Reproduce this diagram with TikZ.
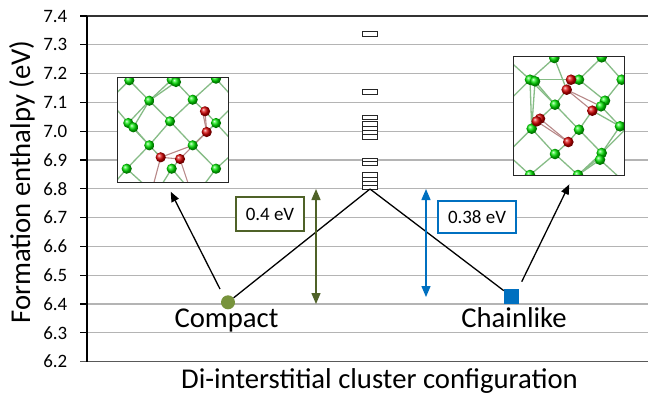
\documentclass[tikz,border=0pt]{standalone}
\usepackage{fontspec}
\setmainfont{Carlito}
\usetikzlibrary{arrows.meta}
\definecolor{olive}{HTML}{4F6228}
\definecolor{olivem}{HTML}{77933C}
\definecolor{xblue}{HTML}{0070C0}
\definecolor{gridc}{HTML}{B4B4B4}
\definecolor{bondg}{HTML}{86BC86}
\definecolor{bondr}{HTML}{B88888}
\tikzset{
  gridline/.style={gridc, line width=1.1bp},
  tick/.style={black, line width=1.1bp},
  ticklab/.style={anchor=east, inner sep=0pt, font=\fontsize{19}{20}\selectfont},
  biglab/.style={inner sep=0pt, font=\fontsize{28.8}{30}\selectfont},
  barbox/.style={draw=black!85, fill=white, line width=0.8bp, minimum width=15bp, minimum height=4.3bp, inner sep=0pt},
  valbox/.style={fill=white, line width=1.4bp, inner sep=0pt, font=\fontsize{19}{20}\selectfont},
  bond/.style={bondg, line width=1.3bp},
  rbond/.style={bondr, line width=1.1bp},
  gb/.style={ball color=green!90!black},
  rb/.style={ball color=red!85!black},
  conn/.style={black, line width=1.3bp},
  ptr/.style={black, line width=1.3bp, -{Triangle[width=8bp,length=10bp]}},
  dbl/.style={line width=1.4bp, {Triangle[width=9bp,length=11bp]}-{Triangle[width=9bp,length=11bp]}}
}
\begin{document}
\begin{tikzpicture}[x=1bp,y=-1bp]
\useasboundingbox (0,0) rectangle (648,394);
\fill[white] (0,0) rectangle (648,394);
% grid
\foreach \k in {1,...,11}{
  \draw[gridline] (87,{16+\k*28.8}) -- (648,{16+\k*28.8});
}
\draw[black!80, line width=1.2bp] (87,16) -- (648,16);
\draw[black!65, line width=1.4bp] (80,361.6) -- (648,361.6);
\foreach \k in {0,...,11}{
  \draw[tick] (80,{16+\k*28.8}) -- (87,{16+\k*28.8});
}
\draw[black, line width=1.3bp] (87,16) -- (87,361.6);
% tick labels
\foreach \k/\v in {0/7.4,1/7.3,2/7.2,3/7.1,4/7.0,5/6.9,6/6.8,7/6.7,8/6.6,9/6.5,10/6.4,11/6.3,12/6.2}{
  \node[ticklab] (t\k) at (67.5,{16+\k*28.8}) {\v};
}
% axis titles
\node[biglab, rotate=90] (ylab) at (22,182) {Formation enthalpy (eV)};
\node[biglab, anchor=base] (xlab) at (379.5,388) {Di-interstitial cluster configuration};

% left inset
\begin{scope}
\clip (117.3,77) rectangle (228.3,182);
\fill[white] (117.3,77) rectangle (228.3,182);
\coordinate (g1) at (129.3,80.3);
\coordinate (g2) at (171.7,79.7);
\coordinate (g3) at (176,82);
\coordinate (g4) at (216,78.7);
\coordinate (g5) at (149.3,100.7);
\coordinate (g6) at (192.7,99.7);
\coordinate (g7) at (128.3,123);
\coordinate (g8) at (133.3,127.3);
\coordinate (g9) at (170,121.3);
\coordinate (g10) at (216,123);
\coordinate (g11) at (149.3,145.3);
\coordinate (g12) at (192.7,145.3);
\coordinate (g13) at (126.7,168.7);
\coordinate (g14) at (171.7,168.7);
\coordinate (g15) at (216,168.7);
\coordinate (r1) at (205,111.3);
\coordinate (r2) at (206.7,132);
\coordinate (r3) at (160.7,157.3);
\coordinate (r4) at (180,159);
\foreach \a/\b in {g1/g5,g2/g5,g3/g6,g4/g6,g5/g7,g5/g9,g6/g9,g6/r1,g7/g11,g8/g11,g9/g11,g9/g12,g10/r1,g10/r2,g12/g15,g11/g13,g11/r3,g14/r4,g12/r2,g8/g5,g3/g5}
  \draw[bond] (\a) -- (\b);
\draw[bond] (g1) -- ++(-22,22);
\draw[bond] (g1) -- ++(10,-12);
\draw[bond] (g2) -- ++(-12,-12);
\draw[bond] (g3) -- ++(12,-12);
\draw[bond] (g4) -- ++(20,22);
\draw[bond] (g10) -- ++(20,-20);
\draw[bond] (g10) -- ++(20,22);
\draw[bond] (g7) -- ++(-12,-14);
\draw[bond] (g13) -- ++(-12,14);
\draw[bond] (g13) -- ++(22,20);
\draw[bond] (g14) -- ++(-10,16);
\draw[bond] (g14) -- ++(12,14);
\draw[bond] (g15) -- ++(20,-18);
\draw[bond] (g15) -- ++(-12,16);
\draw[bond] (g4) -- ++(10,-10);
\foreach \a/\b in {r1/r2,r3/r4,r2/r4,r3/g12}
  \draw[rbond] (\a) -- (\b);
\draw[rbond] (r3) -- ++(-8,30);
\draw[rbond] (r4) -- ++(10,30);
\draw[rbond] (r2) -- ++(-4,-20);
\foreach \c in {g1,g2,g3,g4,g5,g6,g7,g8,g9,g10,g11,g12,g13,g14,g15}
  \shade[gb] (\c) circle (5.1);
\foreach \c in {r1,r2,r3,r4}
  \shade[rb] (\c) circle (5.1);
\end{scope}
\draw[black!85, line width=0.9bp] (117.3,77) rectangle (228.3,182);
\coordinate (inLb) at (170.7,191.7);

% right inset
\begin{scope}
\clip (513.3,56.3) rectangle (624,175.7);
\fill[white] (513.3,56.3) rectangle (624,175.7);
\coordinate (G1) at (554.3,58);
\coordinate (G2) at (601.7,57.3);
\coordinate (G3) at (530,79.7);
\coordinate (G4) at (535,81.3);
\coordinate (G5) at (579,79.7);
\coordinate (G6) at (621.7,79.7);
\coordinate (G7) at (555,104.7);
\coordinate (G8) at (605,100.7);
\coordinate (G9) at (601,106.3);
\coordinate (G10) at (531.7,128.7);
\coordinate (G11) at (579,129.7);
\coordinate (G12) at (620,126.3);
\coordinate (G13) at (555,154);
\coordinate (G14) at (601.7,153);
\coordinate (G15) at (600,159.7);
\coordinate (G16) at (530,175);
\coordinate (G17) at (578,175);
\coordinate (R1) at (571,79.7);
\coordinate (R2) at (566.7,89.7);
\coordinate (R3) at (592.3,110.7);
\coordinate (R4) at (540,118.7);
\coordinate (R5) at (536.7,121.3);
\coordinate (R6) at (568.3,142);
\foreach \a/\b in {G1/G3,G1/R2,G3/G5,G3/G7,G4/G10,G3/G10,G2/G5,G2/G6,G5/G8,G6/G8,G7/R2,G7/R4,G7/G11,R3/G9,R3/G11,R3/G12,G9/G12,R4/G10,R6/G11,R6/G13,G11/G14,G14/G12,G14/G17,G15/G17,G13/G16,G13/G17,G10/G13,G4/G7}
  \draw[bond] (\a) -- (\b);
\draw[bond] (G3) -- ++(-24,-22);
\draw[bond] (G3) -- ++(-24,24);
\draw[bond] (G10) -- ++(-24,24);
\draw[bond] (G1) -- ++(-18,-18);
\draw[bond] (G1) -- ++(20,-20);
\draw[bond] (G2) -- ++(-20,-20);
\draw[bond] (G2) -- ++(22,-20);
\draw[bond] (G6) -- ++(24,-22);
\draw[bond] (G12) -- ++(24,24);
\draw[bond] (G12) -- ++(24,-24);
\draw[bond] (G15) -- ++(24,22);
\draw[bond] (G16) -- ++(-24,-22);
\draw[bond] (G17) -- ++(24,-20);
\draw[bond] (G14) -- ++(24,-24);
\foreach \a/\b in {R1/R2,R2/R3,R5/R6,R1/G5,R2/G9,R4/R6}
  \draw[rbond] (\a) -- (\b);
\foreach \c in {G1,G2,G3,G4,G5,G6,G7,G8,G9,G10,G11,G12,G13,G14,G15,G16,G17}
  \shade[gb] (\c) circle (5.3);
\foreach \c in {R1,R2,R3,R4,R5,R6}
  \shade[rb] (\c) circle (5.3);
\end{scope}
\draw[black!85, line width=0.9bp] (513.3,56.3) rectangle (624,175.7);
\coordinate (inRb) at (569.3,184.3);

% bars
\foreach \i/\yy in {1/34,2/92,3/117.5,4/123.8,5/128.3,6/132.8,7/137,8/160.6,9/163.4,10/175,11/179.2,12/183.4,13/187.6}{
  \node[barbox] (bar\i) at (369.5,\yy) {};
}

% apex and connectors
\coordinate (apex) at (370,189);
\node[circle, fill=olivem, minimum size=14bp, inner sep=0pt] (cmp) at (228,302.3) {};
\node[rectangle, fill=xblue, minimum size=15bp, inner sep=0pt] (chn) at (511.5,296.5) {};
\draw[conn] (cmp) -- (apex);
\draw[conn] (apex) -- (chn);

% pointers to insets
\coordinate (pL) at (220,289);
\coordinate (pR) at (521.7,281.7);
\draw[ptr] (pL) -- (inLb);
\draw[ptr] (pR) -- (inRb);

% energy arrows
\coordinate (gt) at (316,189);
\coordinate (gbt) at (316,304);
\coordinate (bt) at (426,189);
\coordinate (bbt) at (426,297);
\draw[dbl, olive] (gbt) -- (gt);
\draw[dbl, xblue] (bbt) -- (bt);

% value boxes
\node[valbox, draw=olive, minimum width=68bp, minimum height=34bp] (bL) at (270,214) {0.4 eV};
\node[valbox, draw=xblue, minimum width=78bp, minimum height=32bp] (bR) at (477,217) {0.38 eV};

% labels
\node[biglab, anchor=base] (lc) at (226.5,327) {Compact};
\node[biglab, anchor=base] (lch) at (514,327) {Chainlike};
\end{tikzpicture}
\end{document}
